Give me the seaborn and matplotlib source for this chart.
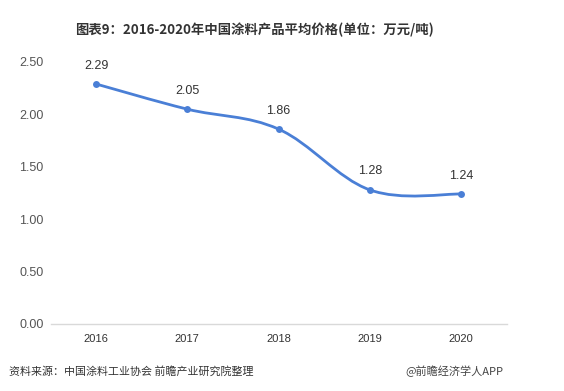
import matplotlib
matplotlib.use("Agg")
import matplotlib.pyplot as plt
import seaborn as sns
import pandas as pd
from matplotlib.path import Path
from matplotlib.patches import PathPatch

years = ["2016", "2017", "2018", "2019", "2020"]
prices = [2.29, 2.05, 1.86, 1.28, 1.24]
yticks = [0.0, 0.5, 1.0, 1.5, 2.0, 2.5]
title = "图表9：2016-2020年中国涂料产品平均价格(单位：万元/吨)"
source = "资料来源：中国涂料工业协会 前瞻产业研究院整理"
credit = "@前瞻经济学人APP"

sns.set_theme(style="white")
plt.rcParams['font.family'] = ['Noto Sans CJK SC', 'DejaVu Sans']

LINE = "#4a7fd6"
df = pd.DataFrame({"year": years, "price": prices})

fig = plt.figure(figsize=(5.64, 3.91), dpi=100)
ax = fig.add_axes([50.5 / 564, 1 - 324 / 391, 456 / 564, 262 / 391])

sns.lineplot(data=df, x="year", y="price", ax=ax, marker="o", markersize=5,
             color=LINE, linewidth=0, markeredgewidth=0, sort=False)

# smooth curve through the data points (Bezier, drawn in data coordinates)
xs = list(range(len(prices)))
pts = list(zip(xs, prices))
s = 0.35
verts = [pts[0]]
codes = [Path.MOVETO]
n = len(pts)
for i in range(n - 1):
    p0 = pts[i - 1] if i > 0 else pts[i]
    p1 = pts[i]
    p2 = pts[i + 1]
    p3 = pts[i + 2] if i + 2 < n else pts[i + 1]
    c1 = (p1[0] + (p2[0] - p0[0]) * s / 2, p1[1] + (p2[1] - p0[1]) * s / 2)
    c2 = (p2[0] - (p3[0] - p1[0]) * s / 2, p2[1] - (p3[1] - p1[1]) * s / 2)
    verts += [c1, c2, p2]
    codes += [Path.CURVE4] * 3
ax.add_patch(PathPatch(Path(verts, codes), facecolor="none", edgecolor=LINE,
                       linewidth=2.0, capstyle="round", joinstyle="round"))

for x, v in zip(xs, prices):
    ax.annotate(f"{v:.2f}", (x, v), xytext=(0, 9), textcoords="offset points",
                ha="center", va="bottom", fontsize=9, color="#333333",
                family=["Liberation Sans", "DejaVu Sans"])

ax.set_xlim(-0.5, len(years) - 0.5)
ax.set_ylim(0, 2.5)
ax.set_yticks(yticks)
ax.set_yticklabels([f"{t:.2f}" for t in yticks], fontsize=9, color="#555555",
                   family=["Liberation Sans", "DejaVu Sans"])
ax.set_xticks(xs)
ax.set_xticklabels(years, fontsize=8, color="#333333",
                   family=["Liberation Sans", "DejaVu Sans"])
ax.tick_params(axis="y", length=0, pad=5)
ax.tick_params(axis="x", length=0, pad=7)
ax.set_xlabel("")
ax.set_ylabel("")
for side in ["top", "right", "left"]:
    ax.spines[side].set_visible(False)
ax.spines["bottom"].set_color("#d9d9d9")
ax.spines["bottom"].set_linewidth(1)
ax.grid(False)

fig.text(254 / 564, 1 - 30 / 391, title, ha="center", va="center",
         fontsize=9.6, fontweight="bold", color="#333333")
fig.text(9 / 564, 1 - 371 / 391, source, ha="left", va="center",
         fontsize=7.9, color="#333333")
fig.text(503 / 564, 1 - 371 / 391, credit, ha="right", va="center",
         fontsize=8, color="#444444")

fig.savefig("out.png", dpi=100)
